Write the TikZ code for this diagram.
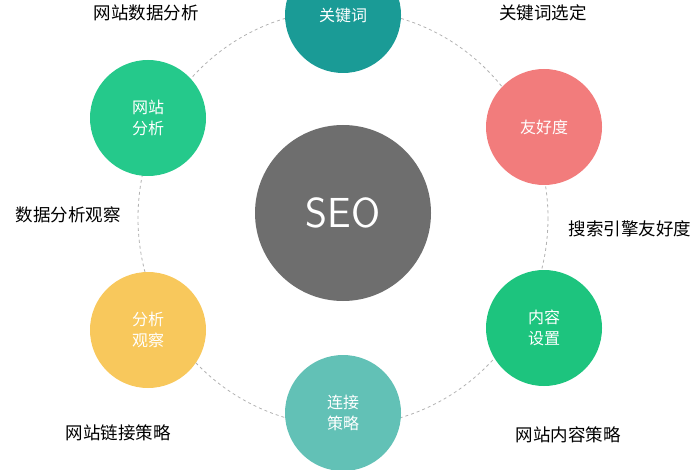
\documentclass[tikz,border=0pt]{standalone}
\usepackage{fontspec}
\newfontfamily\cjk{Noto Sans CJK SC}
\definecolor{cgray}{HTML}{6E6E6E}
\definecolor{cteal}{HTML}{1A9B96}
\definecolor{cpink}{HTML}{F27C7C}
\definecolor{cgreen}{HTML}{1DC47E}
\definecolor{caqua}{HTML}{62C1B6}
\definecolor{cyellow}{HTML}{F8C85C}
\definecolor{cmint}{HTML}{25C98B}
\begin{document}
\begin{tikzpicture}[x=1pt,y=-1pt,
  bub/.style={circle,minimum size=116pt,inner sep=0pt,text=white,font=\cjk\fontsize{16}{21}\selectfont,align=center},
  lab/.style={font=\cjk\fontsize{17.5}{20}\selectfont,text=black}]
\useasboundingbox (0,0) rectangle (700,470);
\begin{scope}
\clip (0,0) rectangle (700,470);
\draw[gray!60,dashed,line width=0.8pt] (343,218) ellipse (205 and 208);
\node[bub,fill=cgray,minimum size=176pt,font=\fontsize{42}{46}\selectfont\sffamily] (seo) at (343,213) {SEO};
\node[bub,fill=cteal] (kw) at (343,15) {关键词};
\node[bub,fill=cpink] (fr) at (544,127) {友好度};
\node[bub,fill=cgreen] (nr) at (544,328) {内容\\设置};
\node[bub,fill=caqua] (lj) at (343,413) {连接\\策略};
\node[bub,fill=cyellow] (fx) at (148,330) {分析\\观察};
\node[bub,fill=cmint] (wz) at (148,118) {网站\\分析};
\end{scope}
\node[lab] (l1) at (146,13) {网站数据分析};
\node[lab] (l2) at (543,13) {关键词选定};
\node[lab] (l3) at (68,215) {数据分析观察};
\node[lab] (l4) at (630,229) {搜索引擎友好度};
\node[lab] (l5) at (118,433) {网站链接策略};
\node[lab] (l6) at (568,435) {网站内容策略};
\end{tikzpicture}
\end{document}
